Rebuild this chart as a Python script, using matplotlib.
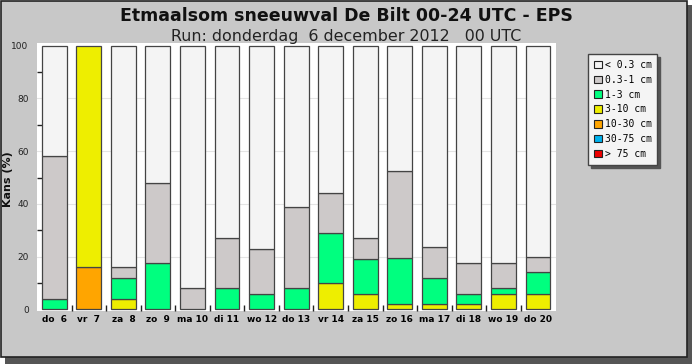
import matplotlib
matplotlib.use("Agg")
import matplotlib.pyplot as plt
from matplotlib.patches import Patch, Rectangle
import numpy as np

# ── data (kans in %, per klasse) ─────────────────────────────────────────────
days = ["do  6", "vr  7", "za  8", "zo  9", "ma 10", "di 11", "wo 12", "do 13",
        "vr 14", "za 15", "zo 16", "ma 17", "di 18", "wo 19", "do 20"]
red    = [0, 0, 0, 0, 0, 0, 0, 0, 0, 0, 0, 0, 0, 0, 0]
blue   = [0, 0, 0, 0, 0, 0, 0, 0, 0, 0, 0, 0, 0, 0, 0]
orange = [0, 16, 0, 0, 0, 0, 0, 0, 0, 0, 0, 0, 0, 0, 0]
yellow = [0, 84, 4, 0, 0, 0, 0, 0, 10, 6, 2, 2, 2, 6, 6]
green  = [4, 0, 8, 17.5, 0, 8, 6, 8, 19, 13, 17.5, 10, 4, 2, 8]
grey   = [54, 0, 4, 30.5, 8, 19, 17, 31, 15, 8, 33, 11.5, 11.5, 9.5, 6]
white  = [42, 0, 84, 52, 92, 73, 77, 61, 56, 73, 47.5, 76.5, 82.5, 82.5, 80]

labels = ["< 0.3 cm", "0.3-1 cm", "1-3 cm", "3-10 cm", "10-30 cm", "30-75 cm", "> 75 cm"]
colors = ["#f4f4f4", "#cdc9c9", "#00ff7f", "#eeee00", "#ffa500", "#00b2ee", "#ee0000"]

BG = "#c8c8c8"

fig = plt.figure(figsize=(6.92, 3.64), dpi=100, facecolor="white")

# panel + shadow
fig.patches.append(Rectangle((5 / 692, 0), 687 / 692, 1 - 5 / 364,
                             transform=fig.transFigure, facecolor="#555555",
                             edgecolor="none", zorder=-3))
fig.patches.append(Rectangle((0.5 / 692, 7.5 / 364), 686 / 692, 356 / 364,
                             transform=fig.transFigure, facecolor=BG,
                             edgecolor="#222222", linewidth=1.2, zorder=-2))

ax = fig.add_axes([37 / 692, 53 / 364, 519 / 692, 268 / 364])
ax.set_facecolor("white")
for s in ax.spines.values():
    s.set_visible(False)

x = np.arange(len(days))
series = [red, blue, orange, yellow, green, grey, white]
series_colors = colors[::-1]
bottom = np.zeros(len(days))
for vals, col in zip(series, series_colors):
    vals = np.array(vals, dtype=float)
    mask = vals > 0
    ax.bar(x[mask], vals[mask], bottom=bottom[mask], width=0.72, color=col,
           edgecolor="#444444", linewidth=0.9, zorder=3)
    bottom += vals

ax.set_xlim(-0.5, 14.52)
ax.set_ylim(-0.6, 101)
ax.set_yticks([0, 20, 40, 60, 80, 100])
ax.set_yticks([10, 30, 50, 70, 90], minor=True)
ax.set_xticks(x)
ax.set_xticklabels(days, fontsize=6.5, fontweight="bold")
ax.set_xticks(x[:-1] + 0.5, minor=True)
ax.tick_params(axis="y", which="major", length=0, pad=6, labelsize=6.5, labelcolor="#222222")
ax.tick_params(axis="y", which="minor", length=3.5, direction="in", width=1, color="#222222")
ax.tick_params(axis="x", which="major", length=0, pad=3)
ax.tick_params(axis="x", which="minor", length=4, direction="in", width=1, color="#222222")
for v in [20, 40, 60, 80]:
    ax.axhline(v, color="#e4e4e4", linewidth=0.8, zorder=1)

fig.text(8.5 / 692, 1 - 179 / 364, "Kans (%)", rotation=90, ha="center", va="center",
         fontsize=8, fontweight="bold", color="#111111")

fig.text(0.5, 1 - 16 / 364, "Etmaalsom sneeuwval De Bilt 00-24 UTC - EPS",
         ha="center", va="center", fontsize=12.5, fontweight="bold", color="#111111")
fig.text(0.5, 1 - 37 / 364, "Run: donderdag  6 december 2012   00 UTC",
         ha="center", va="center", fontsize=11.4, color="#222222")

handles = [Patch(facecolor=c, edgecolor="#222222", linewidth=0.8) for c in colors]
leg = fig.legend(handles, labels, loc="upper left",
                 bbox_to_anchor=(588 / 692, 1 - 54 / 364), borderaxespad=0,
                 prop={"family": "DejaVu Sans Mono", "size": 7},
                 handlelength=0.8, handleheight=0.8, handletextpad=0.3,
                 labelspacing=0.5, borderpad=0.6, fancybox=False,
                 shadow={"color": "#555555", "alpha": 1, "ox": 2, "oy": -2}, framealpha=1)
leg.get_frame().set_facecolor("#f4f4f4")
leg.get_frame().set_edgecolor("#444444")
leg.get_frame().set_linewidth(1)

fig.savefig("out.png", dpi=100, facecolor=fig.get_facecolor())
